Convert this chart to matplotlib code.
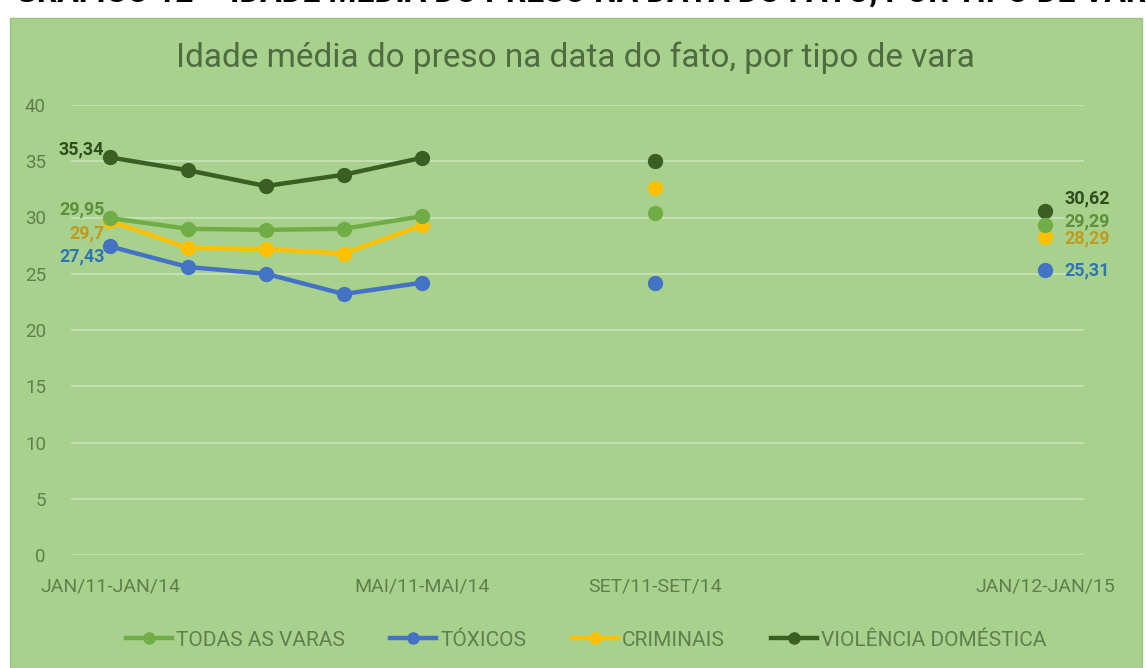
import numpy as np
import matplotlib
matplotlib.use("Agg")
import matplotlib.pyplot as plt
from matplotlib.patches import Rectangle

plt.rcParams['font.family'] = ['Liberation Sans Narrow', 'Roboto', 'DejaVu Sans']

# ---- data ----
categories = ["JAN/11-JAN/14", "", "", "", "MAI/11-MAI/14", "", "", "SET/11-SET/14",
              "", "", "", "", "JAN/12-JAN/15"]
nan = np.nan
todas = [29.95, 29.0, 28.9, 29.0, 30.1, nan, nan, 30.4, nan, nan, nan, nan, 29.29]
toxicos = [27.43, 25.6, 25.0, 23.2, 24.2, nan, nan, 24.2, nan, nan, nan, nan, 25.31]
criminais = [29.7, 27.3, 27.2, 26.8, 29.3, nan, nan, 32.6, nan, nan, nan, nan, 28.29]
violencia = [35.34, 34.2, 32.8, 33.8, 35.3, nan, nan, 35.0, nan, nan, nan, nan, 30.62]
series_names = ["TODAS AS VARAS", "TÓXICOS", "CRIMINAIS", "VIOLÊNCIA DOMÉSTICA"]
yticks = [0, 5, 10, 15, 20, 25, 30, 35, 40]

colors = ["#70AD47", "#4472C4", "#FFC000", "#3B5E23"]
label_colors = ["#5E8F3A", "#2E75B6", "#C09A1E", "#2F4D1C"]

BG = "#A9D18E"

fig = plt.figure(figsize=(11.46, 6.68), dpi=100, facecolor="white")
fig.patches.append(Rectangle((10/1146, 0), 1132/1146, 1 - 18/668, transform=fig.transFigure,
                             facecolor=BG, edgecolor="#9CC47F", lw=1, zorder=-5))
fig.text(15/1146, 1 + 10/668, "GRÁFICO 12 – IDADE MÉDIA DO PRESO NA DATA DO FATO, POR TIPO DE VARA",
         fontsize=23, fontweight="bold", color="black", ha="left", va="center")

ax = fig.add_axes([71/1146, 1 - 555/668, (1084 - 71)/1146, (555 - 105)/668])
ax.set_zorder(2)
ax.set_facecolor("none")
ax.patch.set_alpha(0)
x = np.arange(len(categories))
all_series = [todas, toxicos, criminais, violencia]
zs = [3.3, 3.1, 3.2, 3.0]
for i in range(4):
    ax.plot(x, all_series[i], color=colors[i], lw=3.2, marker="o", markersize=10,
            label=series_names[i], zorder=zs[i])

ax.set_xlim(-0.5, len(categories) - 0.5)
ax.set_ylim(0, 40)
ax.set_yticks(yticks)
ax.set_xticks(x)
ax.set_xticklabels(categories)
ax.tick_params(axis="both", length=0, colors="#5F7F4D")
ax.tick_params(axis="y", pad=18, labelsize=13.5)
ax.tick_params(axis="x", pad=16, labelsize=14)
for s in ax.spines.values():
    s.set_visible(False)
ax.grid(axis="y", color="#C6E2B4", lw=1.3)
ax.set_axisbelow(True)

# data labels
first_offsets = [(-4, 6), (-4, -7), (-4, -9), (-4, 6)]
last_offsets = [(14, 3), (14, 0), (14, -1), (14, 9)]
for i, s in enumerate(all_series):
    v0 = s[0]
    ax.annotate(f"{v0:g}".replace(".", ","), (0, v0), xytext=first_offsets[i],
                textcoords="offset points", ha="right", va="center",
                fontsize=13, fontweight="bold", color=label_colors[i], zorder=6)
    vl = s[-1]
    ax.annotate(f"{vl:g}".replace(".", ","), (len(categories) - 1, vl), xytext=last_offsets[i],
                textcoords="offset points", ha="left", va="center",
                fontsize=13, fontweight="bold", color=label_colors[i], zorder=6)

fig.text(575/1146, 1 - 58/668, "Idade média do preso na data do fato, por tipo de vara",
         fontsize=24, color="#4F6B3F", ha="center", va="center")

leg = fig.legend(loc="center", bbox_to_anchor=(586/1146, 1 - 640/668), ncol=4, frameon=False,
                 fontsize=15, labelcolor="#5F7F4D", handlelength=2.2, columnspacing=2.2,
                 handletextpad=0.2, markerscale=0.8)

fig.savefig("out.png", dpi=100, facecolor="white")
